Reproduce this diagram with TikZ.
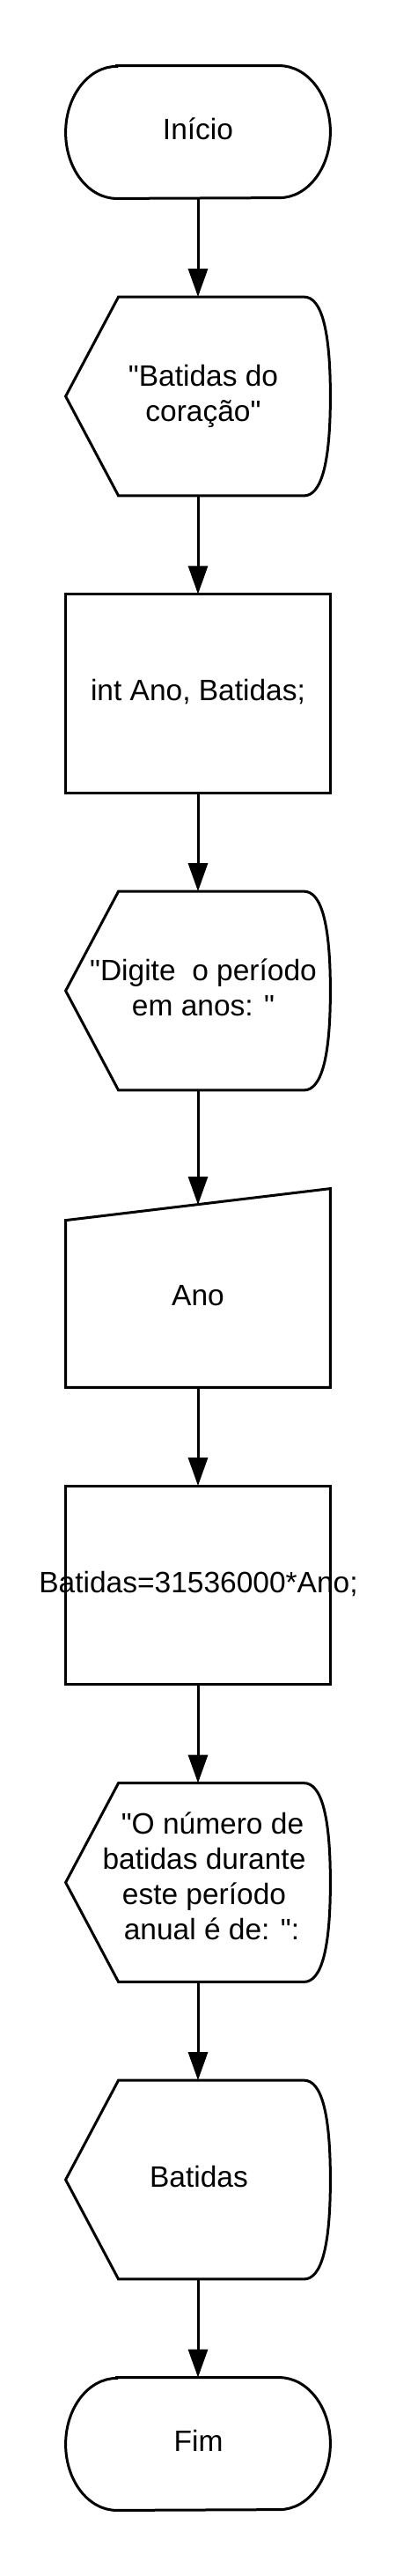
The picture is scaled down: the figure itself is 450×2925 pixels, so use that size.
\documentclass[tikz,border=0pt]{standalone}
\usepackage{fontspec}
\setmainfont{Liberation Sans}
\newfontfamily\libsans{Liberation Sans}
\usetikzlibrary{arrows.meta}
\newcommand\sr{\rule[-6pt]{0pt}{20pt}}
\newcommand\terminatorOutline[1]{%
  \draw[ln] ([xshift=29pt]#1.north west) -- ([xshift=-29pt]#1.north east)
    arc[start angle=90,end angle=-90,x radius=29pt,y radius=37.5pt]
    -- ([xshift=29pt]#1.south west)
    arc[start angle=270,end angle=90,x radius=29pt,y radius=37.5pt] -- cycle;}
\newcommand\displayOutline[1]{%
  \draw[ln] (#1.west) -- ([xshift=30pt]#1.north west) -- ([xshift=-15pt]#1.north east)
    .. controls ([xshift=-5pt]#1.north east) and ([yshift=37.5pt]#1.east) .. (#1.east)
    .. controls ([yshift=-37.5pt]#1.east) and ([xshift=-5pt]#1.south east) .. ([xshift=-15pt]#1.south east)
    -- ([xshift=30pt]#1.south west) -- cycle;}
\begin{document}
\begin{tikzpicture}[x=0.5pt,y=-0.5pt,
  shp/.style={draw=none,inner sep=0pt,minimum width=150pt},
  ln/.style={line width=1.5pt,line join=miter},
  arr/.style={line width=1.5pt,-{Triangle[length=16pt,width=11pt]}},
  txt/.style={font=\libsans\fontsize{16.75pt}{20pt}\selectfont,align=center,inner sep=0pt}]
\useasboundingbox[fill=white] (0,0) rectangle (450,2925);

% shapes
\node[shp,minimum height=75pt]    (ini) at (225,150) {};
\node[shp,minimum height=112.5pt] (d1)  at (225,450) {};
\node[shp,minimum height=112.5pt] (r1)  at (225,787.5) {};
\node[shp,minimum height=112.5pt] (d2)  at (225,1125) {};
\node[shp,minimum height=112.5pt] (mi)  at (225,1462.5) {};
\node[shp,minimum height=112.5pt] (r2)  at (225,1800) {};
\node[shp,minimum height=112.5pt] (d3)  at (225,2137.5) {};
\node[shp,minimum height=112.5pt] (d4)  at (225,2475) {};
\node[shp,minimum height=75pt]    (fim) at (225,2775) {};
\coordinate (mitop) at (225,1368);

\terminatorOutline{ini}
\displayOutline{d1}
\draw[ln] (r1.north west) rectangle (r1.south east);
\displayOutline{d2}
\draw[ln] ([yshift=-18pt]mi.north west) -- (mi.north east) -- (mi.south east) -- (mi.south west) -- cycle;
\draw[ln] (r2.north west) rectangle (r2.south east);
\displayOutline{d3}
\displayOutline{d4}
\terminatorOutline{fim}

% texts
\node[txt] (tini) at (225,150) {\sr Início};
\node[txt] (td1) at (231,450) {\sr"Batidas do\\\sr coração"};
\node[txt] (tr1) at (225,787.5) {\sr int Ano, Batidas;};
\node[txt] (td2) at (231,1125) {\sr"Digite\ \ o período\\\sr em anos: "};
\node[txt] (tmi) at (225,1474) {\sr Ano};
\node[txt] (tr2) at (225.5,1800) {\sr Batidas=31536000*Ano;};
\node[txt] (td3) at (232,2134) {\sr\hspace*{9.5pt}"O número de\\\sr batidas durante\\\sr este período\\\sr\hspace*{8.5pt}anual é de: ":};
\node[txt] (td4) at (226,2475) {\sr Batidas};
\node[txt] (tfim) at (225.5,2775) {\sr Fim};

% connectors
\draw[arr] (ini.south) -- (d1.north);
\draw[arr] (d1.south) -- (r1.north);
\draw[arr] (r1.south) -- (d2.north);
\draw[arr] (d2.south) -- (mitop);
\draw[arr] (mi.south) -- (r2.north);
\draw[arr] (r2.south) -- (d3.north);
\draw[arr] (d3.south) -- (d4.north);
\draw[arr] (d4.south) -- (fim.north);
\end{tikzpicture}
\end{document}
